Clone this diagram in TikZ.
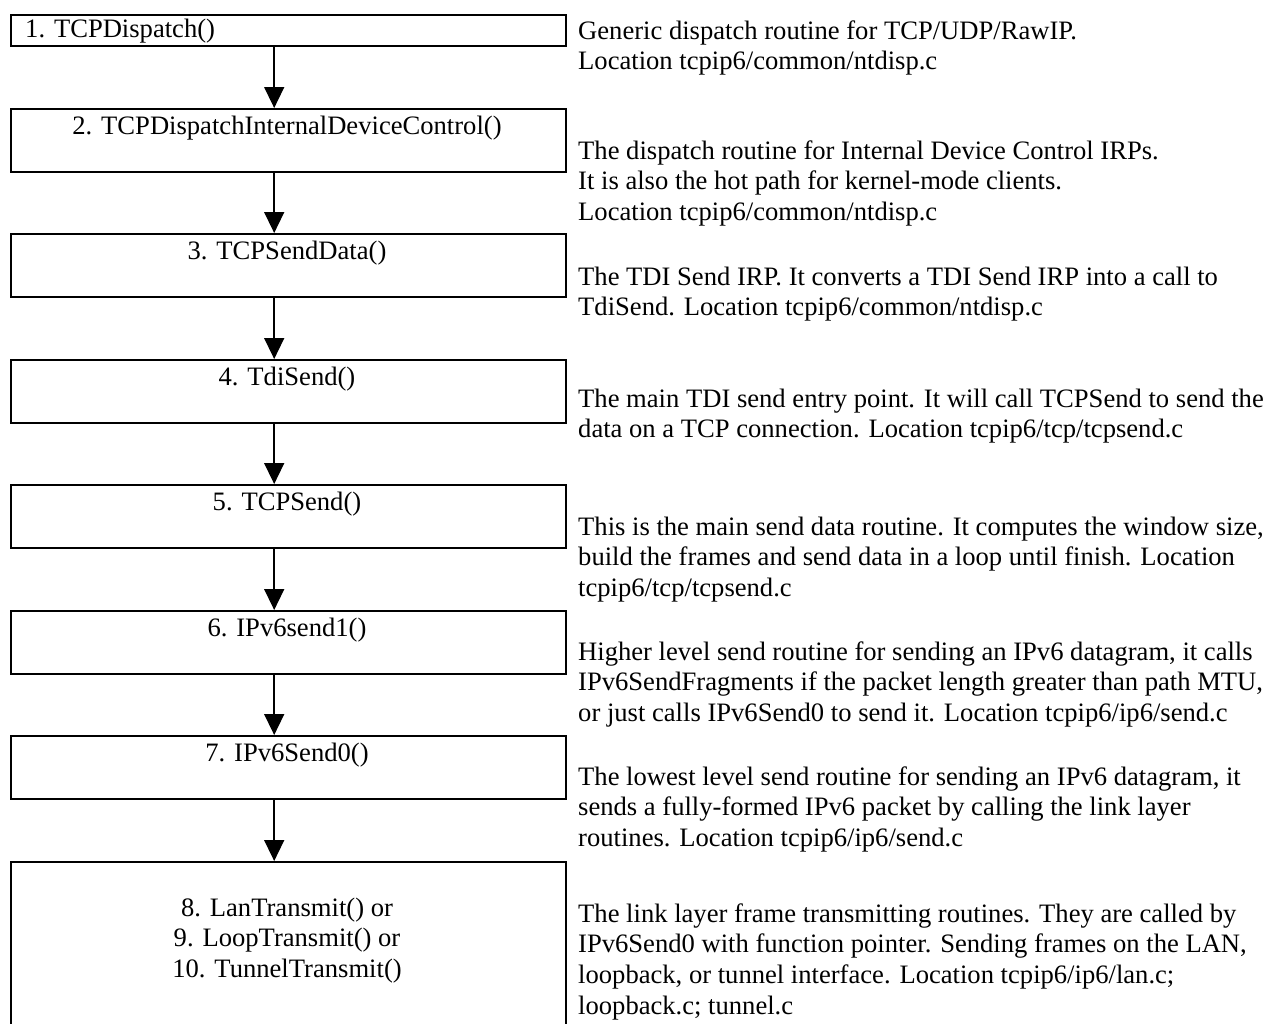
\documentclass[tikz,border=0pt]{standalone}
\usepackage{fontspec}
\setmainfont{Liberation Serif}
\usetikzlibrary{arrows.meta}
\newcommand\firstline{\rule{0pt}{22pt}}
\tikzset{
  callbox/.style={draw, line width=2.4pt, minimum width=555pt, anchor=north west, inner sep=0pt},
  calltext/.style={anchor=north, inner sep=0pt, align=center, font=\fontsize{26.6}{30.4}\selectfont},
  note/.style={anchor=north west, inner sep=0pt, align=left, font=\fontsize{26.6}{30.6}\selectfont},
  callarrow/.style={line width=1.5pt, -{Triangle[width=20pt,length=21pt]}},
}
\begin{document}
\begin{tikzpicture}[x=1pt, y=-1pt]
\clip (0,0) rectangle (1269,1023);
\fill[white] (0,0) rectangle (1269,1023);

% call chain boxes
\node[callbox, minimum height=31pt] (b1) at (10,14) {};
\node[callbox, minimum height=63pt] (b2) at (10,108) {};
\node[callbox, minimum height=63pt] (b3) at (10,233) {};
\node[callbox, minimum height=63pt] (b4) at (10,359) {};
\node[callbox, minimum height=63pt] (b5) at (10,484) {};
\node[callbox, minimum height=63pt] (b6) at (10,610) {};
\node[callbox, minimum height=63pt] (b7) at (10,735) {};
\node[callbox, minimum height=200pt] (b8) at (10,861) {};

% routine names (node top = baseline - 22)
\node[calltext, anchor=north west] (t1) at (25,15) {\firstline 1. TCPDispatch()};
\node[calltext] (t2) at (287,112) {\firstline 2. TCPDispatchInternalDeviceControl()};
\node[calltext] (t3) at (287,237) {\firstline 3. TCPSendData()};
\node[calltext] (t4) at (287,363) {\firstline 4. TdiSend()};
\node[calltext] (t5) at (287,488) {\firstline 5. TCPSend()};
\node[calltext] (t6) at (287,614) {\firstline 6. IPv6send1()};
\node[calltext] (t7) at (287,739) {\firstline 7. IPv6Send0()};
\node[calltext] (t8) at (287,894) {\firstline 8. LanTransmit() or\\9. LoopTransmit() or\\10. TunnelTransmit()};

% calls
\foreach \a/\b in {b1/b2, b2/b3, b3/b4, b4/b5, b5/b6, b6/b7, b7/b8}
  \draw[callarrow] ([xshift=-14.5pt]\a.south) -- ([xshift=-14.5pt]\b.north);

% descriptions
\node[note] (d1) at (578,17) {\firstline Generic dispatch routine for TCP/UDP/RawIP.\\Location tcpip6/common/ntdisp.c};
\node[note] (d2) at (578,137) {\firstline The dispatch routine for Internal Device Control IRPs.\\It is also the hot path for kernel-mode clients.\\Location tcpip6/common/ntdisp.c};
\node[note] (d3) at (578,263) {\firstline The TDI Send IRP. It converts a TDI Send IRP into a call to\\TdiSend. Location tcpip6/common/ntdisp.c};
\node[note] (d4) at (578,385) {\firstline The main TDI send entry point. It will call TCPSend to send the\\data on a TCP connection. Location tcpip6/tcp/tcpsend.c};
\node[note] (d5) at (578,513) {\firstline This is the main send data routine. It computes the window size,\\build the frames and send data in a loop until finish. Location\\tcpip6/tcp/tcpsend.c};
\node[note] (d6) at (578,638) {\firstline Higher level send routine for sending an IPv6 datagram, it calls\\IPv6SendFragments if the packet length greater than path MTU,\\or just calls IPv6Send0 to send it. Location tcpip6/ip6/send.c};
\node[note] (d7) at (578,763) {\firstline The lowest level send routine for sending an IPv6 datagram, it\\sends a fully-formed IPv6 packet by calling the link layer\\routines. Location tcpip6/ip6/send.c};
\node[note] (d8) at (578,900) {\firstline The link layer frame transmitting routines. They are called by\\IPv6Send0 with function pointer. Sending frames on the LAN,\\loopback, or tunnel interface. Location tcpip6/ip6/lan.c;\\loopback.c; tunnel.c};
\end{tikzpicture}
\end{document}
